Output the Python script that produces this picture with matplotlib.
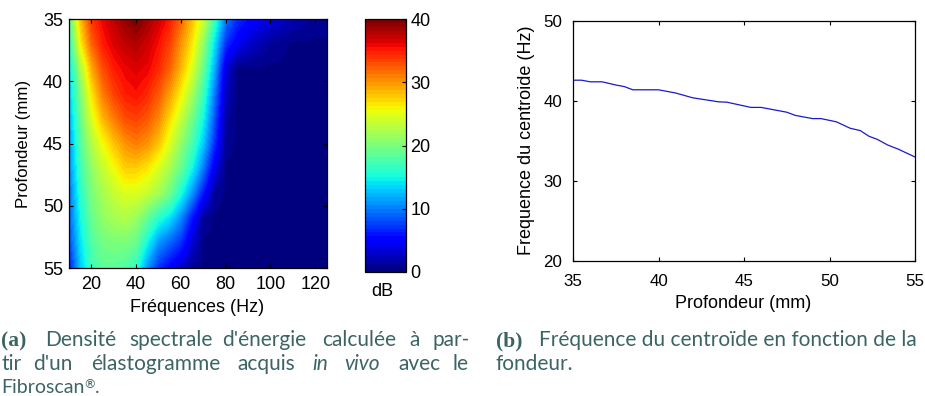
import numpy as np
import matplotlib
matplotlib.use('Agg')
import matplotlib.pyplot as plt

plt.rcParams['font.family'] = ['Liberation Sans', 'DejaVu Sans']
plt.rcParams['font.size'] = 13

W, H = 925, 396

# densite spectrale (dB): lignes = profondeur, colonnes = frequence
frequences = np.arange(10, 130, 5)
profondeurs = np.arange(35, 57, 2)
dse_35 = [18, 28, 34, 36, 37.5, 39, 40, 38.5, 37, 35, 32, 28, 24, 17, 10, 7, 5.5, 4.5, 3.5, 3, 2, 1.5, 1, 1]
dse_37 = [16, 26, 32, 35, 36.5, 37.5, 38, 37, 35.5, 33.5, 30, 26.5, 21, 14, 7, 4.5, 3, 2, 1.2, .8, .5, .5, .5, .5]
dse_39 = [14, 22, 29, 33, 35, 36, 36.5, 36, 34.5, 32, 28.5, 24.5, 19, 12, 3.5, .5, .5, .5, .5, .5, .5, .5, .5, .5]
dse_41 = [13, 20, 26.5, 31, 33.5, 35, 35.5, 34.5, 32.5, 29.5, 26, 22, 17, 10, 2.5, .5, .5, .5, .5, .5, .5, .5, .5, .5]
dse_43 = [12, 19, 24.5, 28.5, 31, 33, 33.5, 32.5, 30.5, 27, 23.5, 19.5, 15, 8.5, 1.5, .5, .5, .5, .5, .5, .5, .5, .5, .5]
dse_45 = [11, 18, 22.5, 25.5, 28, 30, 31, 30, 28, 24.5, 21, 17.5, 13, 7, 1, .5, .5, .5, .5, .5, .5, .5, .5, .5]
dse_47 = [10.5, 17, 21, 23.5, 25.5, 27.5, 27.5, 26.5, 24.5, 22, 19, 15, 10, 4, .5, .5, .5, .5, .5, .5, .5, .5, .5, .5]
dse_49 = [9.5, 16, 20, 22, 23.5, 24.5, 24.5, 23.5, 22, 19.5, 15.5, 11, 6, 1, .5, .5, .5, .5, .5, .5, .5, .5, .5, .5]
dse_51 = [9, 15, 19, 21, 22, 22.5, 21.5, 19, 16, 14, 10.5, 6, 1, .5, .5, .5, .5, .5, .5, .5, .5, .5, .5, .5]
dse_53 = [8, 14, 18, 19.5, 20, 20, 19, 15, 11, 9, 7, 3, .5, .5, .5, .5, .5, .5, .5, .5, .5, .5, .5, .5]
dse_55 = [6, 13, 17, 18.5, 18.5, 18, 16.5, 11, 7, 5, 3, 1, .5, .5, .5, .5, .5, .5, .5, .5, .5, .5, .5, .5]
dse = np.array([dse_35, dse_37, dse_39, dse_41, dse_43, dse_45, dse_47, dse_49, dse_51, dse_53, dse_55])

# frequence du centroide
prof_centroide = [35, 35.5, 36, 36.7, 37.5, 38, 38.5, 40, 41, 42, 43.5, 44, 45.4, 46, 47.5, 48, 49, 49.5,
                  50.4, 51.2, 51.8, 52.3, 52.8, 53.4, 54, 55]
freq_centroide = [42.6, 42.6, 42.4, 42.4, 42, 41.8, 41.4, 41.4, 41, 40.4, 39.9, 39.85, 39.2, 39.2, 38.6, 38.2,
                  37.8, 37.8, 37.4, 36.6, 36.3, 35.6, 35.2, 34.5, 34, 33]


def axes_px(x0, y0, x1, y1):
    # rectangle en pixels de l'image (origine en haut a gauche)
    return [x0 / W, 1 - y1 / H, (x1 - x0) / W, (y1 - y0) / H]


def reglage_ticks(ax, pad_x, pad_y, taille):
    ax.tick_params(direction='in', length=3, width=0.8, top=True, right=True, labelsize=taille)
    ax.tick_params(axis='x', pad=pad_x)
    ax.tick_params(axis='y', pad=pad_y)
    for s in ax.spines.values():
        s.set_linewidth(0.9)


fig = plt.figure(figsize=(W / 100, H / 100), dpi=100)

ax1 = fig.add_axes(axes_px(68.5, 19, 326.5, 268))
df = (frequences[1] - frequences[0]) / 2
dp = (profondeurs[1] - profondeurs[0]) / 2
im = ax1.imshow(dse, cmap=plt.get_cmap('jet', 64), vmin=0, vmax=40, aspect='auto',
                interpolation='bilinear', interpolation_stage='data',
                extent=[frequences[0] - df, frequences[-1] + df, profondeurs[-1] + dp, profondeurs[0] - dp])
ax1.set_xlim(10, 125)
ax1.set_ylim(55, 35)
ax1.set_xticks([20, 40, 60, 80, 100, 120])
ax1.set_yticks([35, 40, 45, 50, 55])
ax1.set_xlabel('Fréquences (Hz)', va='center')
ax1.xaxis.set_label_coords(0.497, -0.16)
ax1.set_ylabel('Profondeur (mm)', va='center', fontsize=12.2)
ax1.yaxis.set_label_coords(-0.175, 0.5)
reglage_ticks(ax1, 6, 4, 13)

cax = fig.add_axes(axes_px(365, 19, 406, 272))
cb = fig.colorbar(im, cax=cax, ticks=[0, 10, 20, 30, 40])
cax.tick_params(direction='in', length=3, width=0.8, pad=3, labelsize=13)
cb.outline.set_linewidth(0.9)
fig.text(382 / W, 1 - 292 / H, 'dB', ha='center', va='center', fontsize=13)

ax2 = fig.add_axes(axes_px(573, 21, 915, 261))
ax2.plot(prof_centroide, freq_centroide, color='#1a1ac8', lw=0.9)
ax2.set_xlim(35, 55)
ax2.set_ylim(20, 50)
ax2.set_xticks([35, 40, 45, 50, 55])
ax2.set_yticks([20, 30, 40, 50])
ax2.set_xlabel('Profondeur (mm)', va='center')
ax2.xaxis.set_label_coords(0.496, -0.179)
ax2.set_ylabel('Frequence du centroide (Hz)', va='center')
ax2.yaxis.set_label_coords(-0.135, 0.505)
reglage_ticks(ax2, 9, 8, 12.2)

# legendes sous les figures, placees mot par mot (texte justifie)
couleur = '#3c6464'
cap = dict(family='Lato', fontsize=15, color=couleur, va='center')
gras = dict(family='Liberation Serif', fontsize=15.5, fontweight='bold', color=couleur, va='center')
ligne1 = [(45, 'Densité'), (129, 'spectrale'), (222, "d'énergie"), (322, 'calculée'), (409, 'à'), (433, 'par-')]
ligne2 = [(1, 'tir'), (33, "d'un"), (91, 'élastogramme'), (237, 'acquis'), (398, 'avec'), (452, 'le')]
fig.text(1 / W, 1 - 341 / H, '(a)', **gras)
for x, mot in ligne1:
    fig.text(x / W, 1 - 340 / H, mot, **cap)
for x, mot in ligne2:
    fig.text(x / W, 1 - 364 / H, mot, **cap)
fig.text(312 / W, 1 - 364 / H, 'in', fontstyle='italic', **cap)
fig.text(344 / W, 1 - 364 / H, 'vivo', fontstyle='italic', **cap)
# derniere ligne : sur la ligne de base, pour rester dans l'image
bas = dict(family='Lato', fontsize=14, color=couleur, va='baseline')
fig.text(1 / W, 1 - 393 / H, 'Fibroscan', **bas)
fig.text(83 / W, 1 - 385 / H, '®', family='DejaVu Sans', fontsize=9, color=couleur, va='center')
fig.text(95 / W, 1 - 393 / H, '.', **bas)
fig.text(496 / W, 1 - 341 / H, '(b)', **gras)
fig.text(539 / W, 1 - 340 / H, 'Fréquence du centroïde en fonction de la', **cap)
fig.text(496 / W, 1 - 364 / H, 'fondeur.', **cap)

fig.savefig('out.png', dpi=100)
